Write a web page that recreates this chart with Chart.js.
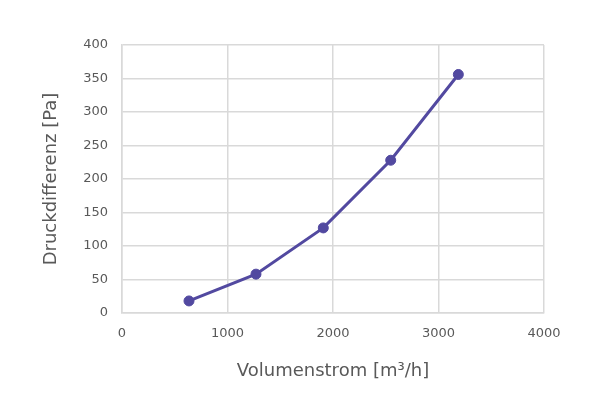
<!DOCTYPE html>
<html>
<head>
<meta charset="utf-8">
<script src="https://cdn.jsdelivr.net/npm/chart.js@4"></script>
<style>
  html, body { margin: 0; padding: 0; background: #fff; }
  #wrap { width: 600px; height: 400px; }
</style>
</head>
<body>
<div id="wrap"><canvas id="graphe"></canvas></div>
<script>
// measured points (volume flow vs pressure difference)
var volumenstrom = [635, 1270, 1908, 2547, 3188];
var druckdifferenz = [18, 58, 127, 228, 356];
var xTitle = "Volumenstrom [m³/h]";
var yTitle = "Druckdifferenz [Pa]";

var textColor = "#595959";
var gridColor = "#d9d9d9";
var lineColor = "#5249a0";

var points = volumenstrom.map(function(v, i){
    return {x: v, y: druckdifferenz[i]};
});

var ctx = document.getElementById('graphe').getContext('2d');
var myChart = new Chart(ctx, {
    type: 'scatter',
    data: {
        datasets: [{
            label: "Druckdifferenz",
            data: points,
            showLine: true,
            borderColor: lineColor,
            backgroundColor: lineColor,
            borderWidth: 3,
            pointRadius: 5,
            pointBorderWidth: 1,
            pointHoverRadius: 5
        }]
    },
    options: {
        responsive: true,
        maintainAspectRatio: false,
        animation: false,
        layout: {
            padding: {left: 41, right: 56, top: 45, bottom: 18}
        },
        plugins: {
            legend: {display: false},
            tooltip: {enabled: false}
        },
        scales: {
            x: {
                type: 'linear',
                min: 0,
                max: 4000,
                afterFit: function(scale){ scale.height = 69; },
                ticks: {
                    stepSize: 1000,
                    color: textColor,
                    padding: 13,
                    font: {family: "DejaVu Sans", size: 13},
                    callback: function(v){ return String(v); }
                },
                grid: {color: gridColor, lineWidth: 1.5, drawTicks: false},
                border: {color: gridColor, width: 1.5},
                title: {
                    display: true,
                    text: xTitle,
                    color: textColor,
                    font: {family: "DejaVu Sans", size: 18},
                    padding: 0
                }
            },
            y: {
                min: 0,
                max: 400,
                afterFit: function(scale){ scale.width = 81; },
                ticks: {
                    stepSize: 50,
                    color: textColor,
                    padding: 14,
                    font: {family: "DejaVu Sans", size: 13}
                },
                grid: {color: gridColor, lineWidth: 1.5, drawTicks: false},
                border: {color: gridColor, width: 1.5},
                title: {
                    display: true,
                    text: yTitle,
                    color: textColor,
                    font: {family: "DejaVu Sans", size: 18},
                    padding: 0
                }
            }
        }
    }
});
</script>
</body>
</html>
